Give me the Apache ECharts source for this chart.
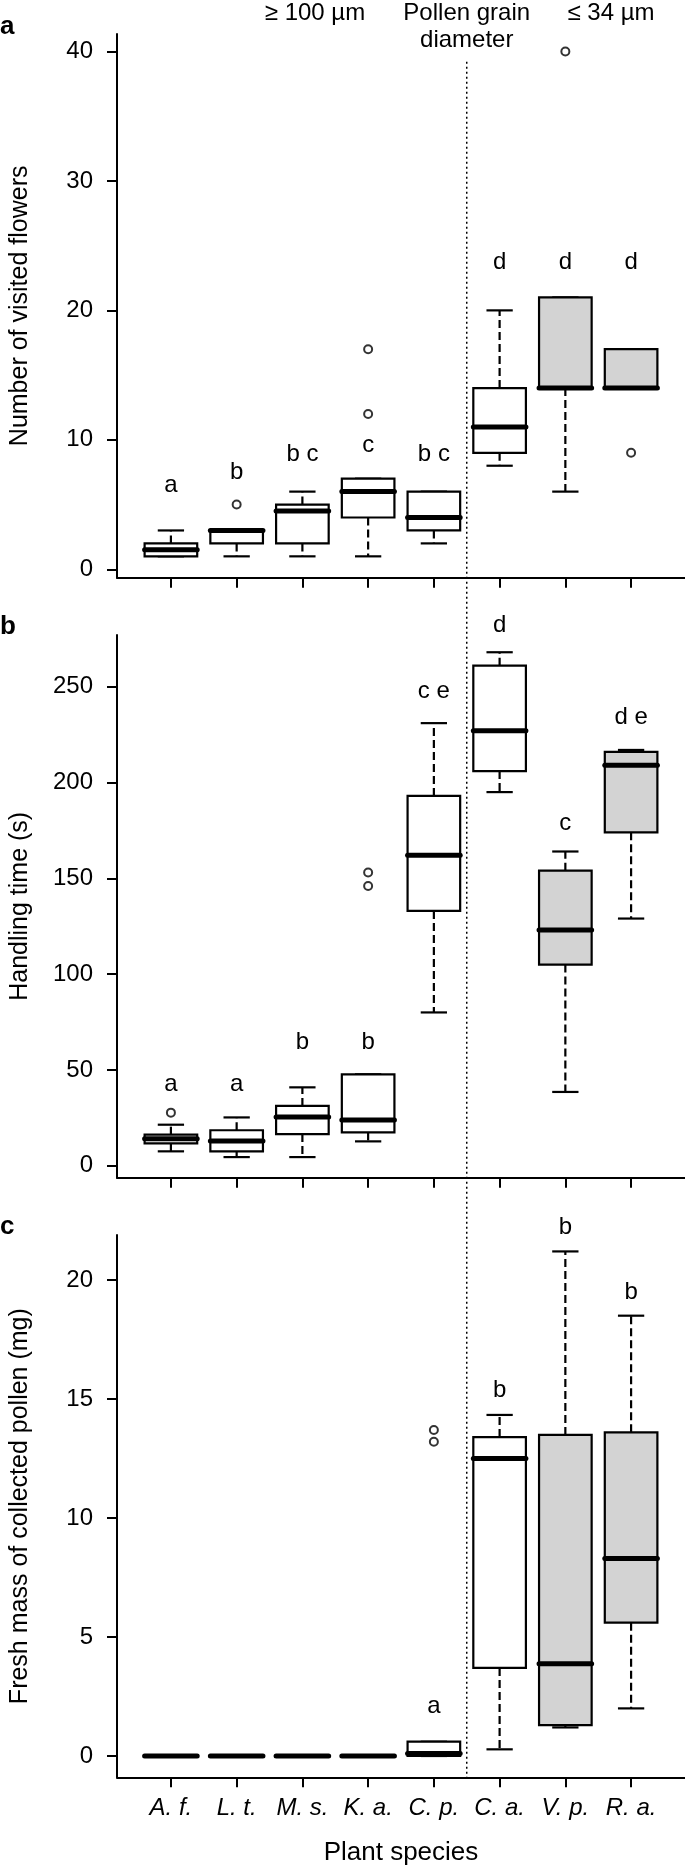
<!DOCTYPE html>
<html>
<head>
<meta charset="utf-8">
<script src="https://cdn.jsdelivr.net/npm/echarts@6/dist/echarts.min.js"></script>
<style>
html,body{margin:0;padding:0;background:#fff;}
#chart{width:685px;height:1870px;}
</style>
</head>
<body>
<div id="chart"></div>
<script>
// ---------- DATA ----------
const species = ['A. f.', 'L. t.', 'M. s.', 'K. a.', 'C. p.', 'C. a.', 'V. p.', 'R. a.'];

// [min, Q1, median, Q3, max] per species
const flowersStats = [
  [1, 1, 1.5, 2, 3],
  [1, 2, 3, 3, 3],
  [1, 2, 4.5, 5, 6],
  [1, 4, 6, 7, 7],
  [2, 3, 4, 6, 6],
  [8, 9, 11, 14, 20],
  [6, 14, 14, 21, 21],
  [14, 14, 14, 17, 17]
];
const flowersOutliers = [[2, 5], [4, 12], [4, 17], [7, 40], [8, 9]];
const flowersLetters = ['a', 'b', 'b c', 'c', 'b c', 'd', 'd', 'd'];
const flowersLetterY = [6.5, 7.5, 8.9, 9.6, 8.9, 23.7, 23.7, 23.7];
const flowersTicks = [0, 10, 20, 30, 40];

const handlingStats = [
  [7.5, 11.7, 14.1, 16.2, 21.4],
  [4.5, 7.5, 12.9, 18.5, 25.2],
  [4.5, 16.5, 25.4, 31.2, 40.9],
  [12.7, 17.4, 23.9, 47.7, 47.7],
  [80, 133, 162, 193, 231],
  [195, 206, 227, 261, 268],
  [38.5, 105, 123, 154, 164],
  [129, 174, 209, 216, 217]
];
const handlingOutliers = [[1, 27.7], [4, 153], [4, 146]];
const handlingLetters = ['a', 'a', 'b', 'b', 'c e', 'd', 'c', 'd e'];
const handlingLetterY = [42.5, 42.5, 64.2, 64.2, 247.4, 282.2, 178.7, 234];
const handlingTicks = [0, 50, 100, 150, 200, 250];

const pollenStats = [
  [0, 0, 0, 0, 0],
  [0, 0, 0, 0, 0],
  [0, 0, 0, 0, 0],
  [0, 0, 0, 0, 0],
  [0, 0, 0.1, 0.6, 0.6],
  [0.28, 3.7, 12.5, 13.4, 14.33],
  [1.2, 1.3, 3.88, 13.49, 21.2],
  [2.0, 5.6, 8.3, 13.6, 18.5]
];
const pollenOutliers = [[5, 13.7], [5, 13.2]];
const pollenLetters = ['', '', '', '', 'a', 'b', 'b', 'b'];
const pollenLetterY = [null, null, null, null, 2.1, 15.35, 22.2, 19.5];
const pollenTicks = [0, 5, 10, 15, 20];

const headerTexts = ['\u2265 100 \u00b5m', 'Pollen grain', 'diameter', '\u2264 34 \u00b5m'];
const panelTags = ['a', 'b', 'c'];
const yTitles = ['Number of visited flowers', 'Handling time (s)', 'Fresh mass of collected pollen (mg)'];
const xTitle = 'Plant species';

// ---------- STYLE / LAYOUT ----------
const shadedSpecies = ['V. p.', 'R. a.'];
const FONT = "'Liberation Sans', Arial, Helvetica, sans-serif";
const grids = [
  { left: 115.5, top: 34, width: 572.1, height: 543.7 },
  { left: 115.5, top: 635, width: 572.1, height: 542.7 },
  { left: 115.5, top: 1235, width: 572.1, height: 542.3 }
];
const yRanges = [[-0.65, 41.35], [-6.26, 277], [-0.895, 21.89]];
const catValues = species.map((s, i) => i + 1);

const chart = echarts.init(document.getElementById('chart'), null, { renderer: 'canvas' });

function boxRender(params, api) {
  const x = api.value(0);
  const mn = api.value(1), q1 = api.value(2), md = api.value(3), q3 = api.value(4), mx = api.value(5);
  const halfW = api.size([0.8, 0])[0] / 2;
  const capHalf = halfW / 2;
  const P = v => api.coord([x, v]);
  const cx = P(md)[0];
  const yMin = P(mn)[1], yQ1 = P(q1)[1], yMd = P(md)[1], yQ3 = P(q3)[1], yMax = P(mx)[1];
  const shaded = shadedSpecies.indexOf(species[x - 1]) >= 0;
  const lineStyle = { stroke: '#000', lineWidth: 2.2 };
  const children = [];
  if (mx > q3) {
    children.push({ type: 'line', shape: { x1: cx, y1: yQ3, x2: cx, y2: yMax }, style: Object.assign({ lineDash: [8, 4] }, lineStyle) });
  }
  if (mn < q1) {
    children.push({ type: 'line', shape: { x1: cx, y1: yQ1, x2: cx, y2: yMin }, style: Object.assign({ lineDash: [8, 4] }, lineStyle) });
  }
  children.push({ type: 'line', shape: { x1: cx - capHalf, y1: yMax, x2: cx + capHalf, y2: yMax }, style: lineStyle });
  children.push({ type: 'line', shape: { x1: cx - capHalf, y1: yMin, x2: cx + capHalf, y2: yMin }, style: lineStyle });
  children.push({ type: 'rect', shape: { x: cx - halfW, y: yQ3, width: 2 * halfW, height: yQ1 - yQ3 },
    style: { fill: shaded ? '#d3d3d3' : '#ffffff', stroke: '#000', lineWidth: 2.2 } });
  children.push({ type: 'line', shape: { x1: cx - halfW, y1: yMd, x2: cx + halfW, y2: yMd },
    style: { stroke: '#000', lineWidth: 5, lineCap: 'round' } });
  return { type: 'group', children: children };
}

function letterRender(params, api) {
  const x = api.value(0), y = api.value(1);
  const txt = params.context.letters[params.dataIndex];
  const p = api.coord([x, y]);
  return { type: 'text', x: p[0], y: p[1],
    style: { text: txt, align: 'center', verticalAlign: 'middle', fontSize: 24, fontFamily: FONT, fill: '#000' } };
}

const statsList = [flowersStats, handlingStats, pollenStats];
const outList = [flowersOutliers, handlingOutliers, pollenOutliers];
const letterList = [flowersLetters, handlingLetters, pollenLetters];
const letterYList = [flowersLetterY, handlingLetterY, pollenLetterY];
const tickList = [flowersTicks, handlingTicks, pollenTicks];

const xAxes = [], yAxes = [], series = [];
for (let k = 0; k < 3; k++) {
  xAxes.push({
    type: 'value', gridIndex: k, min: 0.18, max: 8.82,
    axisLine: { show: true, onZero: false, lineStyle: { color: '#000', width: 2 } },
    axisTick: { show: true, inside: false, length: 10, lineStyle: { color: '#000', width: 2 }, customValues: catValues },
    axisLabel: k === 2 ? {
      show: true, customValues: catValues, margin: 19, fontSize: 24, fontStyle: 'italic', fontFamily: FONT, color: '#000',
      formatter: v => species[Math.round(v) - 1]
    } : { show: false },
    splitLine: { show: false },
    name: k === 2 ? xTitle : '', nameLocation: 'middle', nameGap: 63,
    nameTextStyle: { fontSize: 26, fontFamily: FONT, color: '#000' }
  });
  yAxes.push({
    type: 'value', gridIndex: k, min: yRanges[k][0], max: yRanges[k][1],
    axisLine: { show: true, onZero: false, lineStyle: { color: '#000', width: 2 } },
    axisTick: { show: true, inside: false, length: 10, lineStyle: { color: '#000', width: 2 }, customValues: tickList[k] },
    axisLabel: { show: true, customValues: tickList[k], margin: 24, fontSize: 24, fontFamily: FONT, color: '#000' },
    splitLine: { show: false },
    name: yTitles[k], nameLocation: 'middle', nameRotate: 90, nameGap: 84,
    nameTextStyle: { fontSize: 25, fontFamily: FONT, color: '#000' }
  });
  series.push({
    type: 'custom', xAxisIndex: k, yAxisIndex: k, clip: false, z: 2,
    renderItem: boxRender,
    data: statsList[k].map((s, i) => [i + 1].concat(s))
  });
  series.push({
    type: 'scatter', xAxisIndex: k, yAxisIndex: k, z: 3,
    symbol: 'emptyCircle', symbolSize: 8,
    itemStyle: { color: '#000', borderWidth: 2, borderColor: '#000' },
    data: outList[k]
  });
  const lettersHere = [], letterData = [];
  letterList[k].forEach((t, i) => {
    if (t) { lettersHere.push(t); letterData.push([i + 1, letterYList[k][i]]); }
  });
  series.push({
    type: 'custom', xAxisIndex: k, yAxisIndex: k, clip: false, z: 4,
    renderItem: (params, api) => { params.context.letters = lettersHere; return letterRender(params, api); },
    data: letterData
  });
}

chart.setOption({
  animation: false,
  backgroundColor: '#fff',
  grid: grids,
  xAxis: xAxes,
  yAxis: yAxes,
  series: series
});

// Dotted separator between C. p. and C. a., and header texts
const sepX = chart.convertToPixel({ xAxisIndex: 0 }, 5.5);
const topY = chart.convertToPixel({ yAxisIndex: 0 }, 39.2);
const botY = chart.convertToPixel({ yAxisIndex: 2 }, yRanges[2][0]);
const hdrFont = { fontSize: 24, fontFamily: FONT, fill: '#000', align: 'center', verticalAlign: 'middle' };
const tagFont = { fontSize: 26, fontWeight: 'bold', fontFamily: FONT, fill: '#000', align: 'left', verticalAlign: 'middle' };
chart.setOption({
  graphic: [
    { type: 'line', shape: { x1: sepX, y1: topY, x2: sepX, y2: botY }, style: { stroke: '#000', lineWidth: 1.5, lineDash: [2, 3] }, z: 1 },
    { type: 'text', x: 315, y: 13, style: Object.assign({ text: headerTexts[0] }, hdrFont) },
    { type: 'text', x: sepX, y: 13, style: Object.assign({ text: headerTexts[1] }, hdrFont) },
    { type: 'text', x: sepX, y: 40, style: Object.assign({ text: headerTexts[2] }, hdrFont) },
    { type: 'text', x: 611, y: 13, style: Object.assign({ text: headerTexts[3] }, hdrFont) },
    { type: 'text', x: 0, y: 27, style: Object.assign({ text: panelTags[0] }, tagFont) },
    { type: 'text', x: 0, y: 627, style: Object.assign({ text: panelTags[1] }, tagFont) },
    { type: 'text', x: 0, y: 1227, style: Object.assign({ text: panelTags[2] }, tagFont) }
  ]
});
</script>
</body>
</html>
